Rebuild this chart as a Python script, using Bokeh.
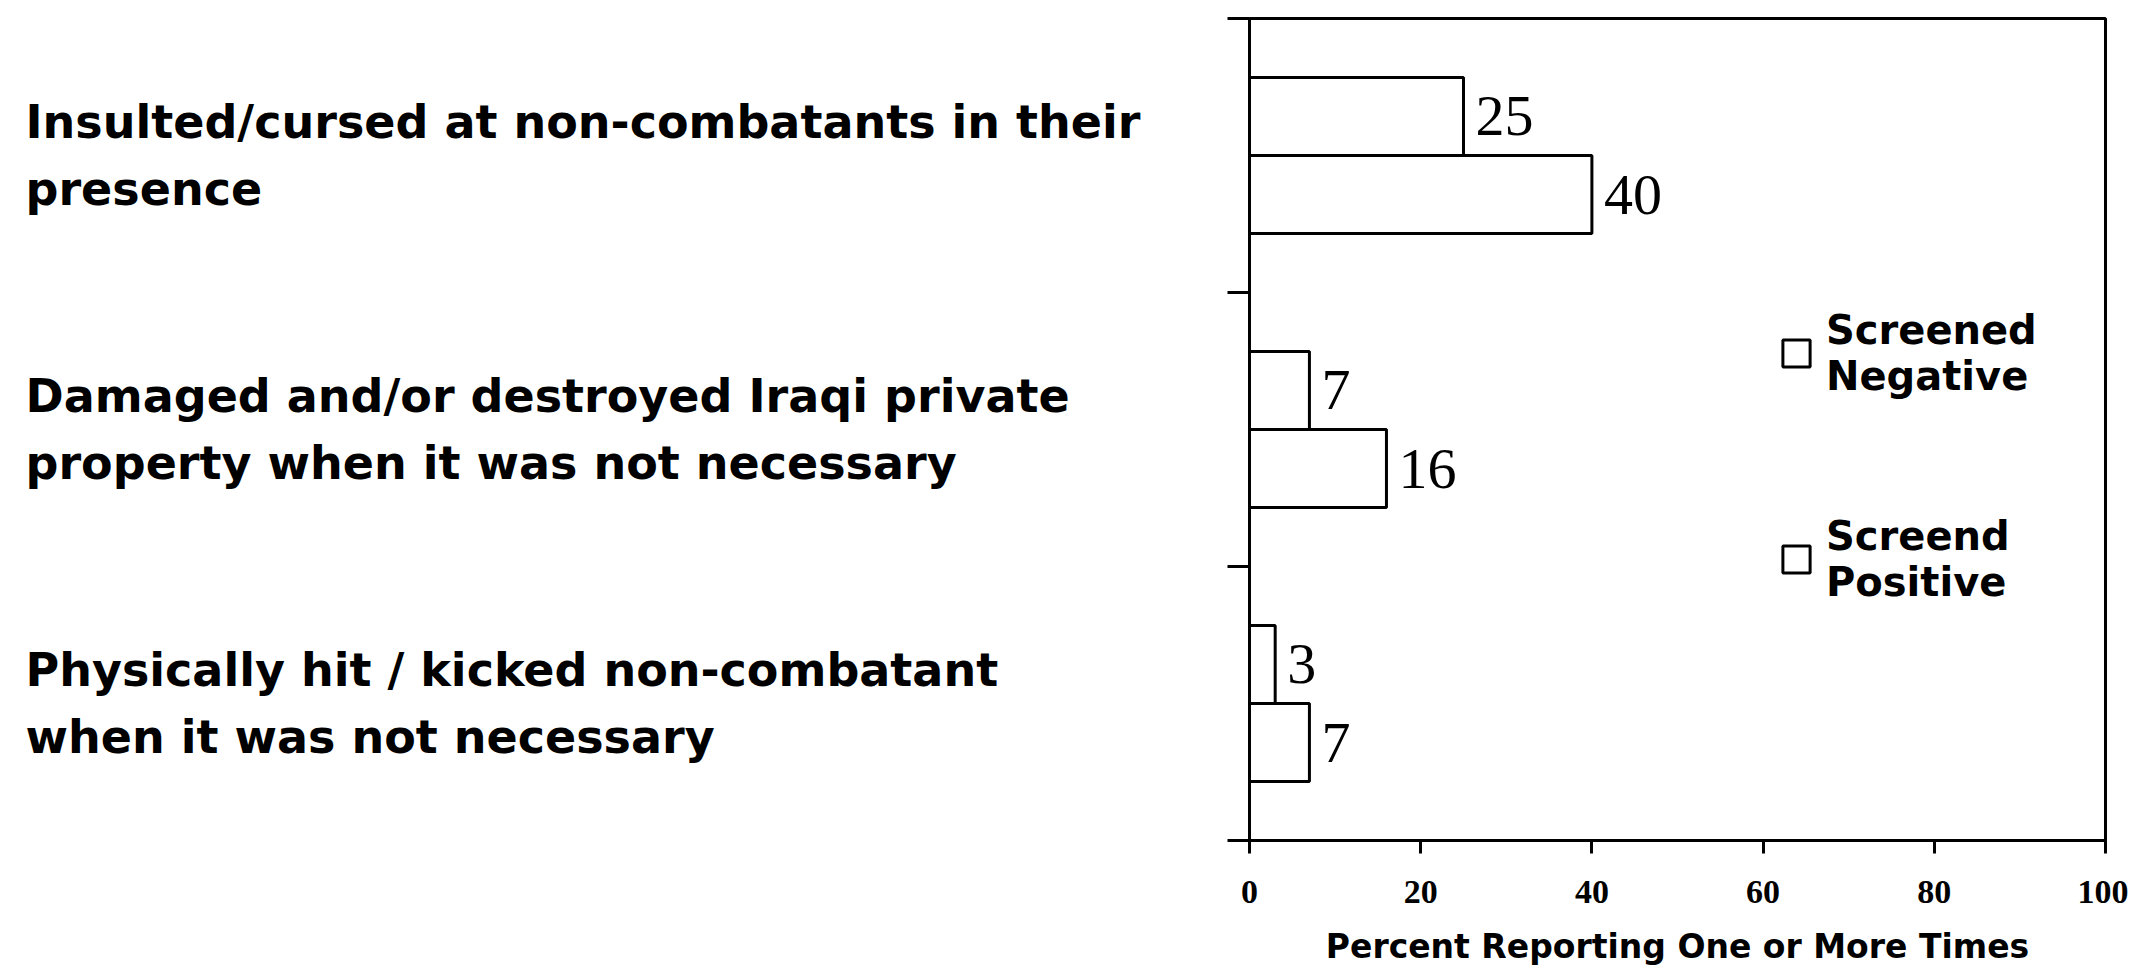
from bokeh.plotting import figure
from bokeh.layouts import row
from bokeh.models import Range1d, FixedTicker, Legend, LegendItem, ColumnDataSource
from bokeh.core.properties import value
from bokeh.embed import file_html
from bokeh.resources import INLINE

# ---- data ----
categories = [
    "Insulted/cursed at non-combatants in their\npresence",
    "Damaged and/or destroyed Iraqi private\nproperty when it was not necessary",
    "Physically hit / kicked non-combatant\nwhen it was not necessary",
]
screened_negative = [25, 7, 3]
screened_positive = [40, 16, 7]
series_names = ["Screened\nNegative", "Screend\nPositive"]
x_ticks = [0, 20, 40, 60, 80, 100]
x_title = "Percent Reporting One or More Times"

n = len(categories)
centers = [n - i - 0.5 for i in range(n)]
bar_h = 0.285
off = 0.1425

y_range = Range1d(0, n)

neg_src = ColumnDataSource(dict(y=[c + off for c in centers], v=screened_negative,
                                t=[str(v) for v in screened_negative]))
pos_src = ColumnDataSource(dict(y=[c - off for c in centers], v=screened_positive,
                                t=[str(v) for v in screened_positive]))
cat_src = ColumnDataSource(dict(y=centers, t=categories))

LEFT_W = 1200

# ---- left panel: category labels, sharing the y scale ----
lab = figure(width=LEFT_W, height=960, frame_width=LEFT_W, frame_height=822,
             x_range=Range1d(0, LEFT_W), y_range=y_range,
             output_backend="svg", toolbar_location=None,
             min_border_left=0, min_border_right=0, min_border_top=18, min_border_bottom=120)
lab.axis.visible = False
lab.grid.visible = False
lab.outline_line_color = None
lab.text(x=25, y="y", text="t", source=cat_src, text_baseline="middle", text_align="left",
         text_font=value("DejaVu Sans"), text_font_style="bold", text_font_size="46px",
         text_line_height=1.25, text_color="black")

# ---- main chart ----
p = figure(width=928, height=960, frame_width=856, frame_height=822,
           x_range=Range1d(0, 100), y_range=y_range,
           output_backend="svg", toolbar_location=None,
           min_border_left=49, min_border_top=18, min_border_right=23, min_border_bottom=120)

p.grid.visible = False
p.outline_line_color = "black"
p.outline_line_width = 3

r_neg = p.hbar(y="y", right="v", left=0, height=bar_h, source=neg_src,
               fill_color="white", line_color="black", line_width=3)
r_pos = p.hbar(y="y", right="v", left=0, height=bar_h, source=pos_src,
               fill_color="white", line_color="black", line_width=3)

for src in (neg_src, pos_src):
    p.text(x="v", y="y", text="t", source=src, x_offset=12,
           text_baseline="middle", text_align="left",
           text_font=value("Liberation Serif"), text_font_size="58px", text_color="black")

# x axis
xa = p.xaxis[0]
xa.ticker = FixedTicker(ticks=x_ticks)
xa.axis_line_width = 3
xa.major_tick_line_width = 3
xa.major_tick_out = 13
xa.major_tick_in = 0
xa.minor_tick_line_color = None
xa.major_label_text_font = "Liberation Serif"
xa.major_label_text_font_style = "bold"
xa.major_label_text_font_size = "34px"
xa.major_label_text_color = "black"
xa.major_label_standoff = 27
xa.axis_label = x_title
xa.axis_label_text_font = "DejaVu Sans"
xa.axis_label_text_font_style = "bold"
xa.axis_label_text_font_size = "33px"
xa.axis_label_text_color = "black"
xa.axis_label_standoff = 21

# y axis: only tick marks at the category boundaries
ya = p.yaxis[0]
ya.ticker = FixedTicker(ticks=[], minor_ticks=list(range(n + 1)))
ya.axis_line_width = 3
ya.major_tick_line_color = None
ya.minor_tick_line_color = "black"
ya.minor_tick_line_width = 3
ya.minor_tick_out = 22
ya.minor_tick_in = 0

legend = Legend(items=[LegendItem(label=series_names[0], renderers=[r_neg]),
                       LegendItem(label=series_names[1], renderers=[r_pos])],
                location=(530, 235), glyph_width=34, glyph_height=34, label_standoff=13,
                padding=0, margin=0, spacing=114, border_line_color=None,
                background_fill_alpha=0, label_text_font="DejaVu Sans",
                label_text_font_style="bold", label_text_font_size="40px",
                label_text_color="black")
p.add_layout(legend)

layout = row(lab, p, spacing=0)
open("out.html", "w").write(file_html(layout, INLINE))
